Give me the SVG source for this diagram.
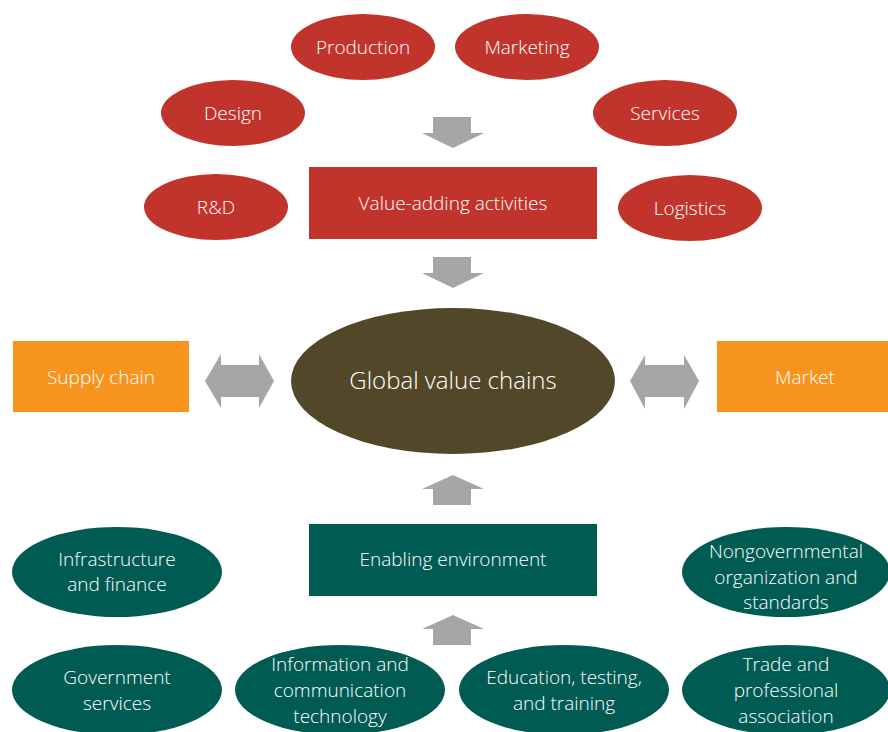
<svg xmlns="http://www.w3.org/2000/svg" width="888" height="732" viewBox="0 0 888 732">
<style>
.red{fill:#C1342C}
.teal{fill:#005B52}
.org{fill:#F7941D}
.arr{fill:#A6A6A6}
text{font-family:"Open Sans","Noto Sans","Liberation Sans",sans-serif;font-size:19px;fill:#FFFFFF;text-anchor:middle;font-weight:300}
.big{font-size:24px}
</style>
<rect width="888" height="732" fill="#FFFFFF"/>
<g id="connectors">
<polygon class="arr" points="433,117 471,117 471,133 484,133 453,148 422,133 433,133"/>
<polygon class="arr" points="433,257 471,257 471,273 484,273 453,288 422,273 433,273"/>
<polygon class="arr" points="205,381 221,354 221,365 259,365 259,354 274,381 259,408 259,397 221,397 221,408"/>
<polygon class="arr" points="630,381 645,355 645,365 684,365 684,355 699,381 684,409 684,397 645,397 645,409"/>
<polygon class="arr" points="453,475 484,489 471,489 471,505 433,505 433,489 422,489"/>
<polygon class="arr" points="453,615 484,629 471,629 471,645 433,645 433,629 422,629"/>
</g>
<g id="production"><ellipse class="red" cx="363" cy="47" rx="72" ry="33"/><text x="363" y="54">Production</text></g>
<g id="marketing"><ellipse class="red" cx="527" cy="47" rx="72" ry="33"/><text x="527" y="54">Marketing</text></g>
<g id="design"><ellipse class="red" cx="233" cy="113" rx="72" ry="33"/><text x="233" y="120">Design</text></g>
<g id="services"><ellipse class="red" cx="665" cy="113" rx="72" ry="33"/><text x="665" y="120">Services</text></g>
<g id="rd"><ellipse class="red" cx="216" cy="207" rx="72" ry="33"/><text x="216" y="214">R&amp;D</text></g>
<g id="logistics"><ellipse class="red" cx="690" cy="208" rx="72" ry="33"/><text x="690" y="215">Logistics</text></g>
<g id="value-adding"><rect class="red" x="309" y="167" width="288" height="72"/><text x="453" y="210">Value-adding activities</text></g>
<g id="gvc"><ellipse cx="453" cy="381" rx="162" ry="73" fill="#53472A"/><text class="big" x="453" y="389">Global value chains</text></g>
<g id="supply-chain"><rect class="org" x="13" y="341" width="176" height="71"/><text x="101" y="384">Supply chain</text></g>
<g id="market"><rect class="org" x="717" y="341" width="171" height="71"/><text x="805" y="384">Market</text></g>
<g id="enabling"><rect class="teal" x="309" y="524" width="288" height="72"/><text x="453" y="566">Enabling environment</text></g>
<g id="infrastructure"><ellipse class="teal" cx="117" cy="572" rx="105" ry="45"/><text x="117" y="566">Infrastructure</text><text x="117" y="591">and finance</text></g>
<g id="ngo"><ellipse class="teal" cx="786" cy="572" rx="104" ry="45"/><text x="786" y="558">Nongovernmental</text><text x="786" y="584">organization and</text><text x="786" y="609">standards</text></g>
<g id="government"><ellipse class="teal" cx="117" cy="690" rx="105" ry="45"/><text x="117" y="684">Government</text><text x="117" y="710">services</text></g>
<g id="ict"><ellipse class="teal" cx="340" cy="690" rx="105" ry="45"/><text x="340" y="671">Information and</text><text x="340" y="697">communication</text><text x="340" y="723">technology</text></g>
<g id="education"><ellipse class="teal" cx="564" cy="690" rx="105" ry="45"/><text x="564" y="684">Education, testing,</text><text x="564" y="710">and training</text></g>
<g id="trade"><ellipse class="teal" cx="786" cy="690" rx="104" ry="45"/><text x="786" y="671">Trade and</text><text x="786" y="697">professional</text><text x="786" y="723">association</text></g>
</svg>
